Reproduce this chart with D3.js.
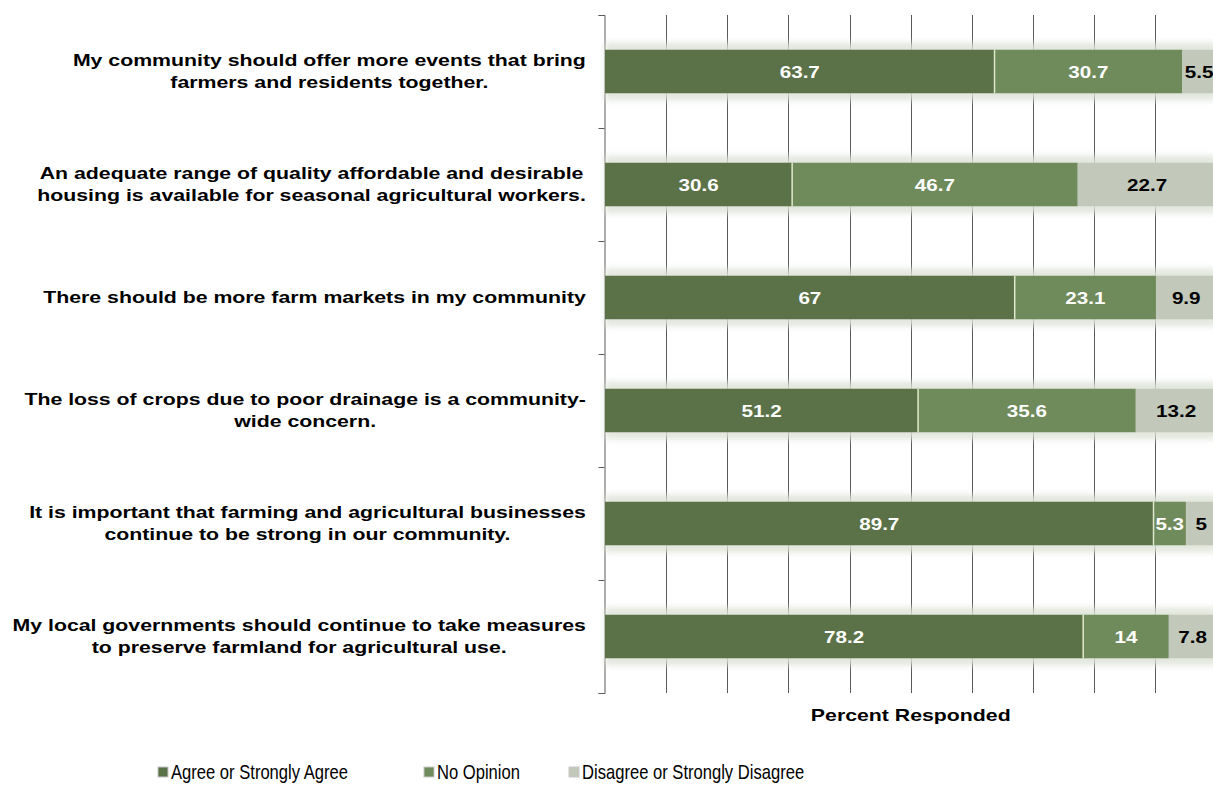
<!DOCTYPE html>
<html lang="en">
<head>
<script src="https://d3js.org/d3.v7.min.js"></script>
<style>
  body { margin: 0; background: #fff; }
  text { font-family: "Liberation Sans", Arial, sans-serif; }
</style>
</head>
<body>
<div id="chart"></div>
<script>
// categories, top to bottom (each one split into lines as in the picture)
const categories = [
  ["My community should offer more events that bring", "farmers and residents together."],
  ["An adequate range of quality affordable and desirable", "housing is available for seasonal agricultural workers."],
  ["There should be more farm markets in my community"],
  ["The loss of crops due to poor drainage is a community-", "wide concern."],
  ["It is important that farming and agricultural businesses", "continue to be strong in our community."],
  ["My local governments should continue to take measures", "to preserve farmland for agricultural use."]
]
const seriesNames = ["Agree or Strongly Agree", "No Opinion", "Disagree or Strongly Disagree"]
const agree    = [63.7, 30.6, 67, 51.2, 89.7, 78.2]
const noOpin   = [30.7, 46.7, 23.1, 35.6, 5.3, 14]
const disagree = [5.5, 22.7, 9.9, 13.2, 5, 7.8]
const xTicks = [0, 10, 20, 30, 40, 50, 60, 70, 80, 90, 100]

const colors = ["#5b7148", "#6f8a5b", "#c2c8ba"]
const labelColors = ["#fff", "#fff", "#000"]

const width = 1213, height = 793
const plotLeft = 605, plotRight = 1216.5, plotTop = 15, plotBottom = 693
const stretch = 1.29   // the original's text is drawn wide

const svg = d3.select("#chart").append("svg")
    .attr("width", width)
    .attr("height", height)

const defs = svg.append("defs")
defs.append("filter").attr("id", "glow")
    .attr("x", "-5%").attr("y", "-50%").attr("width", "110%").attr("height", "200%")
  .append("feGaussianBlur").attr("stdDeviation", 3)

// place a text at (px, py) squeezed or stretched horizontally by sx
function placeText(sel, px, py, sx) {
  sel.attr("x", 0).attr("y", 0)
     .attr("transform", (d, i) => {
        const X = typeof px === "function" ? px(d, i) : px
        const Y = typeof py === "function" ? py(d, i) : py
        return "translate(" + X + "," + Y + ") scale(" + sx + ",1)"
     })
}

const x = d3.scaleLinear().domain([0, 100]).range([plotLeft, plotRight])
const y = d3.scaleBand().domain(d3.range(categories.length))
    .range([plotTop, plotBottom]).paddingInner(0.615).paddingOuter(0.3075)

// vertical gridlines
svg.append("g")
  .selectAll("line")
  .data(xTicks.slice(1))
  .join("line")
    .attr("x1", d => Math.round(x(d)) + 0.5)
    .attr("x2", d => Math.round(x(d)) + 0.5)
    .attr("y1", plotTop)
    .attr("y2", plotBottom)
    .attr("stroke", "#5a5a5a")
    .attr("stroke-width", 1)

// y axis with ticks on the band edges
const yEdges = d3.scaleLinear().domain([0, categories.length]).range([plotTop, plotBottom])
svg.append("g")
    .attr("transform", "translate(" + (plotLeft - 0.5) + ",0)")
    .call(d3.axisLeft(yEdges).ticks(categories.length).tickSize(6).tickSizeOuter(6).tickFormat(""))
    .call(g => g.selectAll("line,path").attr("stroke", "#5a5a5a"))

// stacked data
const rows = agree.map((a, i) => [a, noOpin[i], disagree[i]])
const stackData = rows.map((r, i) => {
  let acc = 0
  return r.map((v, k) => {
    const s = { row: i, k: k, v: v, x0: acc, x1: acc + v }
    acc += v
    return s
  })
})

// soft glow behind bars
svg.append("g")
  .selectAll("rect")
  .data(rows)
  .join("rect")
    .attr("x", x(0))
    .attr("y", (d, i) => y(i) - 7)
    .attr("width", d => x(d3.sum(d)) - x(0))
    .attr("height", y.bandwidth() + 14)
    .attr("fill", "#dde2d6")
    .attr("opacity", 0.85)
    .attr("filter", "url(#glow)")

const bars = svg.append("g")
  .selectAll("g")
  .data(stackData)
  .join("g")

bars.selectAll("rect")
  .data(d => d)
  .join("rect")
    .attr("x", d => x(d.x0))
    .attr("y", d => y(d.row))
    .attr("width", d => x(d.x1) - x(d.x0))
    .attr("height", y.bandwidth())
    .attr("fill", d => colors[d.k])

// light seam between first two segments
bars.append("line")
    .attr("x1", d => x(d[0].x1))
    .attr("x2", d => x(d[0].x1))
    .attr("y1", d => y(d[0].row))
    .attr("y2", d => y(d[0].row) + y.bandwidth())
    .attr("stroke", "#dfe8cc")
    .attr("stroke-width", 1.5)

bars.selectAll("text")
  .data(d => d)
  .join("text")
    .attr("text-anchor", "middle")
    .attr("font-size", 16)
    .attr("font-weight", "bold")
    .attr("fill", d => labelColors[d.k])
    .text(d => d.v)
    .call(placeText, d => (x(d.x0) + x(d.x1)) / 2, d => y(d.row) + y.bandwidth() / 2 + 6, stretch)

// category labels, centred lines, block right-aligned at 586
const catG = svg.append("g")
categories.forEach((lines, i) => {
  const g = catG.append("g")
  const lh = 22
  const cy = y(i) + y.bandwidth() / 2
  const ts = g.selectAll("text")
    .data(lines)
    .join("text")
      .attr("text-anchor", "middle")
      .attr("font-size", 16.5)
      .attr("font-weight", "bold")
      .attr("fill", "#000")
      .text(d => d)
  let maxW = 0
  ts.each(function() { maxW = Math.max(maxW, this.getComputedTextLength()) })
  ts.call(placeText, 586 - maxW * stretch / 2,
          (d, j) => cy + (j - (lines.length - 1) / 2) * lh + 5, stretch)
})

svg.append("text")
    .attr("text-anchor", "middle")
    .attr("font-size", 16.5)
    .attr("font-weight", "bold")
    .text("Percent Responded")
    .call(placeText, (plotLeft + plotRight) / 2, 721, stretch)

// legend
const legendX = [158, 424, 569]
const leg = svg.append("g")
  .selectAll("g")
  .data(seriesNames)
  .join("g")
    .attr("transform", (d, i) => "translate(" + legendX[i] + ",767)")
leg.append("rect")
    .attr("width", 10).attr("height", 10)
    .attr("fill", (d, i) => colors[i])
    .attr("stroke", "#c8c8c8")
    .attr("stroke-width", 1)
leg.append("text")
    .attr("font-size", 20)
    .attr("fill", "#000")
    .text(d => d)
    .call(placeText, 13, 12, 0.83)
</script>
</body>
</html>
